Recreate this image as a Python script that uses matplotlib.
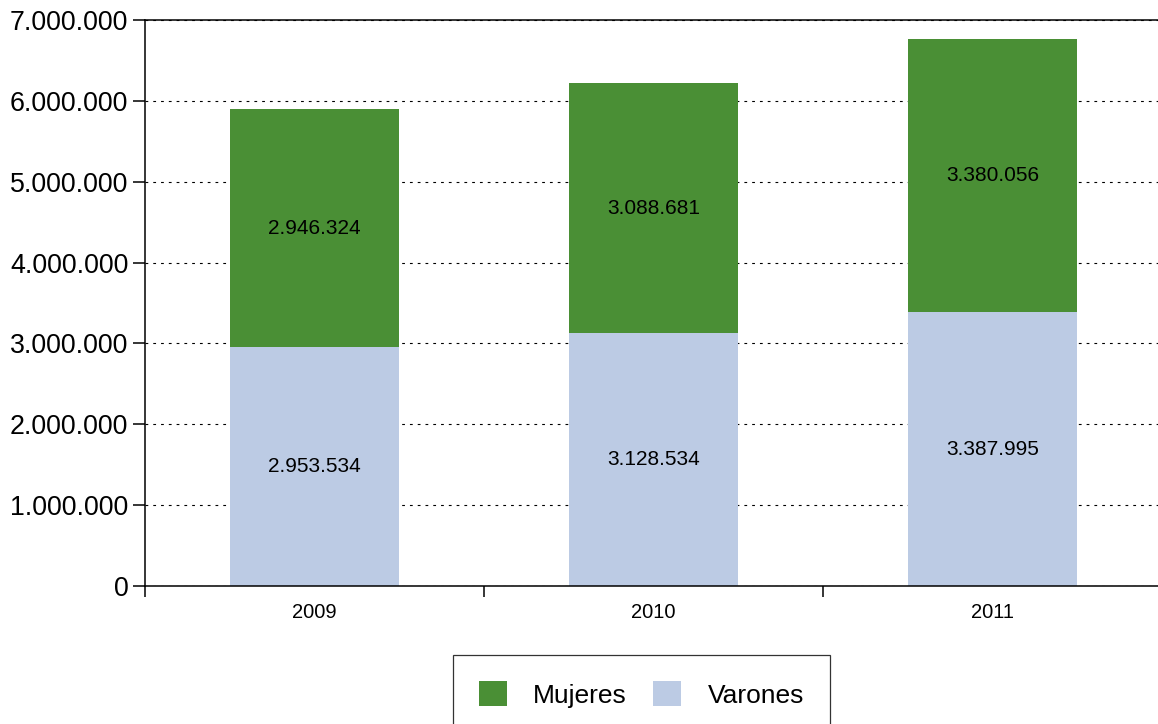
import matplotlib
matplotlib.use("Agg")
import matplotlib.pyplot as plt
from matplotlib.ticker import FuncFormatter, MultipleLocator, FixedLocator

plt.rcParams['font.family'] = ['Liberation Sans', 'DejaVu Sans']

years = ["2009", "2010", "2011"]
varones = [2953534, 3128534, 3387995]
mujeres = [2946324, 3088681, 3380056]

color_mujeres = "#4a8f35"
color_varones = "#bccbe4"


def miles(v, pos=None):
    return f"{int(round(v)):,}".replace(",", ".")


fig = plt.figure(figsize=(11.58, 7.24), dpi=100)
ax = fig.add_axes([145 / 1158, 138 / 724, 1017 / 1158, 566 / 724])

x = list(range(len(years)))
width = 0.5
b_var = ax.bar(x, varones, width, color=color_varones, label="Varones", zorder=2)
b_muj = ax.bar(x, mujeres, width, bottom=varones, color=color_mujeres,
               label="Mujeres", zorder=2)

for bars, vals in ((b_var, varones), (b_muj, mujeres)):
    ax.bar_label(bars, labels=[miles(v) for v in vals], label_type="center",
                 fontsize=15, color="black")

ax.set_xlim(-0.5, 2.5)
ax.set_ylim(0, 7000000)
ax.yaxis.set_major_locator(MultipleLocator(1000000))
ax.yaxis.set_major_formatter(FuncFormatter(miles))
ax.grid(axis="y", color="black", linewidth=0.8, linestyle=(0, (2.5, 4.5)), zorder=1)
ax.set_axisbelow(True)

ax.set_xticks(x)
ax.set_xticklabels(years)
ax.xaxis.set_minor_locator(FixedLocator([-0.5, 0.5, 1.5, 2.5]))
ax.tick_params(axis="x", which="major", length=0, pad=12, labelsize=14.5)
ax.tick_params(axis="x", which="minor", length=8, width=1.1, direction="out")
ax.tick_params(axis="y", length=8.5, width=1.1, pad=3.5, labelsize=19.3)

for side in ("left", "bottom", "top"):
    ax.spines[side].set_linewidth(1.1)
ax.spines["right"].set_visible(False)

handles = [b_muj, b_var]
leg = fig.legend(handles, ["Mujeres", "Varones"], loc="upper center",
                 bbox_to_anchor=(641.5 / 1158, 69 / 724), ncol=2,
                 fontsize=19, frameon=True, fancybox=False, shadow=False,
                 handlelength=1.05, handleheight=1.05, handletextpad=1.0,
                 columnspacing=1.0, borderpad=1.0, borderaxespad=0)
leg.get_frame().set_edgecolor("black")
leg.get_frame().set_linewidth(0.9)

fig.savefig("out.png", dpi=100)
